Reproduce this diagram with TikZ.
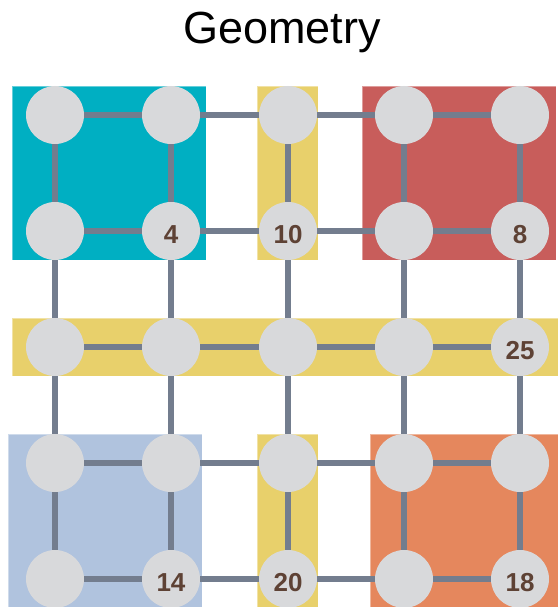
\documentclass[tikz,border=0pt]{standalone}
\usepackage{fontspec}
\setmainfont{Liberation Sans}
\usetikzlibrary{backgrounds}

\definecolor{tealpatch}{HTML}{00AFC2}
\definecolor{redpatch}{HTML}{C85D5B}
\definecolor{yellowpatch}{HTML}{E8D06B}
\definecolor{bluepatch}{HTML}{B0C3DE}
\definecolor{orangepatch}{HTML}{E5875D}
\definecolor{dotgray}{HTML}{D8D9DB}
\definecolor{linkgray}{HTML}{737D8E}
\definecolor{numbrown}{HTML}{5E4235}

\begin{document}
\begin{tikzpicture}[
    x=1pt, y=-1pt,
    dot/.style={circle, fill=dotgray, minimum size=58pt, inner sep=0pt},
    num/.style={anchor=base, text=numbrown, font=\fontsize{26}{26}\selectfont\bfseries},
    link/.style={draw=linkgray, line width=5.5pt},
    patch/.style={draw=white, draw opacity=0.4, line width=0.8pt}
]
\useasboundingbox (0,0) rectangle (558,607);

\node[anchor=base, font=\fontsize{45}{45}\selectfont] (title) at (282,44) {Geometry};

% grid of dots
\foreach \c/\x in {1/55,2/171,3/288,4/404,5/520}
    \foreach \r/\y in {1/115,2/231,3/347,4/463,5/579}
        \node[dot] (n\r\c) at (\x,\y) {};

% numbers
\foreach \n/\t in {n22/4, n23/10, n25/8, n35/25, n52/14, n53/20, n55/18}
    \node[num] at ([yshift=-12pt]\n.center) {\t};

\begin{scope}[on background layer]
    % coloured patches
    \fill[tealpatch, patch] (12,86) rectangle (206,260);
    \fill[yellowpatch, patch] (257,86) rectangle (318,260);
    \fill[redpatch, patch] (362,86) rectangle (556,260);
    \fill[yellowpatch, patch] (12,318) rectangle (558,376);
    \fill[bluepatch, patch] (8,434) rectangle (202,607);
    \fill[yellowpatch, patch] (257,434) rectangle (318,607);
    \fill[orangepatch, patch] (370,434) rectangle (558,607);
    % links
    \foreach \r in {1,...,5}
        \foreach \c [count=\d from 2] in {1,...,4} {
            \draw[link] (n\r\c) -- (n\r\d);
            \draw[link] (n\c\r) -- (n\d\r);
        }
\end{scope}
\end{tikzpicture}
\end{document}
